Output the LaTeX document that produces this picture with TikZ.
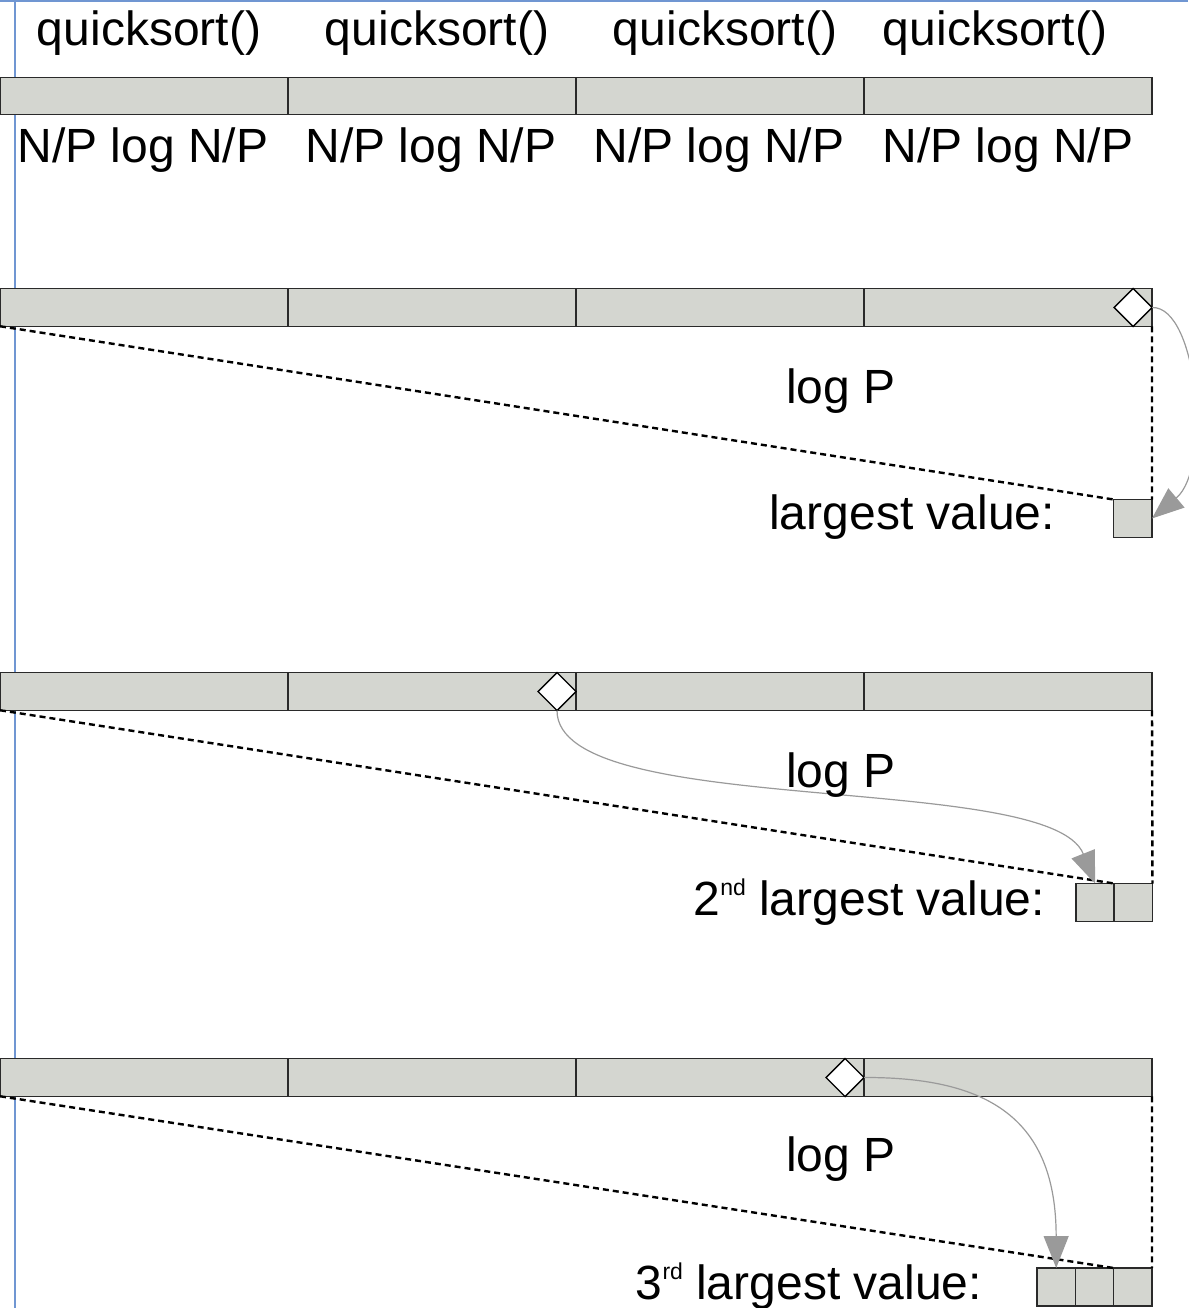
\documentclass[tikz,border=0pt]{standalone}
\usepackage{fontspec}
\setmainfont{Liberation Sans}
\usetikzlibrary{shapes.geometric,arrows.meta}
\definecolor{barfill}{HTML}{D4D6D0}
\definecolor{bardraw}{HTML}{2A2A2A}
\definecolor{pageblue}{HTML}{7096D2}
\definecolor{arrowgray}{HTML}{9A9A9A}
\newcommand{\supx}[1]{\raisebox{20pt}{\fontsize{23}{23}\selectfont #1}}
\begin{document}
\begin{tikzpicture}[x=1pt,y=-1pt,
  every node/.style={font=\fontsize{48}{56}\selectfont},
  seg/.style={draw=bardraw,fill=barfill,line width=1.4pt,minimum width=288pt,minimum height=37.5pt,inner sep=0pt,outer sep=0pt},
  cell/.style={draw=bardraw,fill=barfill,line width=1.4pt,minimum width=38.3pt,minimum height=38pt,inner sep=0pt,outer sep=0pt},
  pick/.style={diamond,draw=black,fill=white,line width=1.4pt,minimum width=38pt,minimum height=38pt,inner sep=0pt,outer sep=0pt},
  lbl/.style={inner sep=0pt,anchor=base},
  rlbl/.style={inner sep=0pt,anchor=base east},
  dashline/.style={dash pattern=on 6pt off 4pt,line width=2.4pt},
  garrow/.style={draw=arrowgray,line width=1.2pt,-{Triangle[length=32pt,width=25pt,fill=arrowgray]}},
  pageline/.style={draw=pageblue,line width=2pt}]
\useasboundingbox (0,0) rectangle (1188,1308);
% page margins
\coordinate (vt) at (15,0);
\coordinate (vb) at (15,1308);
\coordinate (hl) at (0,1);
\coordinate (hr) at (1188,1);
\draw[pageline] (vt) -- (vb);
\draw[pageline] (hl) -- (hr);

% top labels
\node[lbl] (q1) at (149,46) {quicksort()};
\node[lbl] (q2) at (437,46) {quicksort()};
\node[lbl] (q3) at (725,46) {quicksort()};
\node[lbl] (q4) at (995,46) {quicksort()};

% row 0 bar
\foreach \i in {1,...,4} {
  \node[seg] (a\i) at ({144+288*(\i-1)},96) {};
}
\node[lbl] (c1) at (143,163) {N/P log N/P};
\node[lbl] (c2) at (431,163) {N/P log N/P};
\node[lbl] (c3) at (719,163) {N/P log N/P};
\node[lbl] (c4) at (1008,163) {N/P log N/P};

% row 1
\foreach \i in {1,...,4} {
  \node[seg] (b\i) at ({144+288*(\i-1)},307.5) {};
}
\node[cell] (b1x) at (1132.8,518.5) {};
\draw[dashline] (b1.south west) -- (b1x.north west);
\draw[dashline] (b4.south east) -- (b1x.north east);
\node[pick] (d1) at (1133,307.5) {};
\draw[garrow] (d1.east) .. controls (1198,306) and (1212,468) .. (b1x.east);
\node[lbl] (lp1) at (841,403) {log P};
\node[rlbl] (t1) at (1055,529) {largest value:};

% row 2
\foreach \i in {1,...,4} {
  \node[seg] (e\i) at ({144+288*(\i-1)},691.5) {};
}
\node[cell] (e1x) at (1095,902.5) {};
\node[cell] (e2x) at (1133.3,902.5) {};
\draw[dashline] (e1.south west) -- (e2x.north west);
\draw[dashline] (e4.south east) -- (e2x.north east);
\node[pick] (d2) at (557,691.5) {};
\draw[garrow] (d2.south) .. controls (557,820) and (1050,770) .. (e1x.north);
\node[lbl] (lp2) at (841,787) {log P};
\node[rlbl] (t2) at (1045,915) {2\supx{nd} largest value:};

% row 3
\foreach \i in {1,...,4} {
  \node[seg] (f\i) at ({144+288*(\i-1)},1077.5) {};
}
\node[cell] (f1x) at (1056.2,1287) {};
\node[cell] (f2x) at (1094.5,1287) {};
\node[cell] (f3x) at (1132.8,1287) {};
\draw[dashline] (f1.south west) -- (f3x.north west);
\draw[dashline] (f4.south east) -- (f3x.north east);
\node[pick] (d3) at (845,1077.5) {};
\draw[garrow] (d3.east) .. controls (990,1077) and (1056,1120) .. (f1x.north);
\node[lbl] (lp3) at (841,1171) {log P};
\node[rlbl] (t3) at (982,1299) {3\supx{rd} largest value:};
\end{tikzpicture}
\end{document}
